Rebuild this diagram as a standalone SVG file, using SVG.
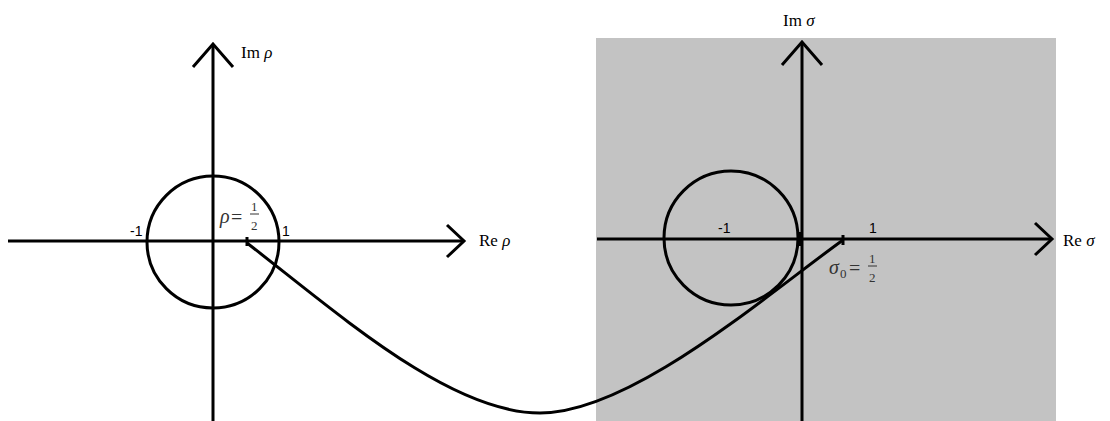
<svg xmlns="http://www.w3.org/2000/svg" width="1110" height="421" viewBox="0 0 1110 421">
<style>
.ax{stroke:#000;stroke-width:3;fill:none;stroke-linecap:butt}
.ah{stroke:#000;stroke-width:3;fill:none;stroke-linejoin:miter}
.lbl{font-family:"Liberation Serif",serif;font-size:17px;fill:#000}
.it{font-style:italic}
.num{font-family:"Liberation Sans",sans-serif;font-size:14px;fill:#000}
.math{font-family:"Liberation Serif",serif;fill:#333}
</style>
<rect x="0" y="0" width="1110" height="421" fill="#fff"/>
<g id="sigma-plane-bg"><rect x="596" y="38" width="460" height="383" fill="#c3c3c3"/></g>
<g id="rho-plane">
  <circle cx="213" cy="242" r="66" class="ax"/>
  <line x1="8" y1="241" x2="464" y2="241" class="ax"/>
  <polyline points="447,225 464,241 447,257" class="ah"/>
  <line x1="213" y1="421" x2="213" y2="44" class="ax"/>
  <polyline points="193,67 213,44 233,67" class="ah"/>
  <text x="241" y="58" class="lbl">Im <tspan class="it">ρ</tspan></text>
  <text x="479" y="246" class="lbl">Re <tspan class="it">ρ</tspan></text>
  <text x="130" y="236" class="num">-1</text>
  <text x="282" y="236" class="num">1</text>
  <text x="220" y="223" class="math it" font-size="20">ρ</text>
  <text x="231" y="224" class="math" font-size="20">=</text>
  <text x="251" y="211" class="math" font-size="13">1</text>
  <line x1="250" y1="214" x2="259" y2="214" stroke="#333" stroke-width="1"/>
  <text x="251" y="230" class="math" font-size="13">2</text>
  <line x1="247" y1="237" x2="247" y2="246" stroke="#000" stroke-width="3"/>
</g>
<g id="sigma-plane">
  <circle cx="731" cy="238" r="67" fill="#fff" class="ax"/>
  <line x1="597" y1="239" x2="1052" y2="239" class="ax"/>
  <polyline points="1035,223 1052,239 1035,255" class="ah"/>
  <line x1="802" y1="421" x2="802" y2="42" class="ax"/>
  <polyline points="782,65 802,42 822,65" class="ah"/>
  <line x1="799" y1="232" x2="799" y2="246" stroke="#000" stroke-width="4"/>
  <text x="783" y="26" class="lbl">Im <tspan class="it">σ</tspan></text>
  <text x="1063" y="246" class="lbl">Re <tspan class="it">σ</tspan></text>
  <text x="718" y="233" class="num">-1</text>
  <text x="869" y="233" class="num" fill="#1a3a8a">1</text>
  <text x="829" y="274" class="math it" font-size="20">σ</text>
  <text x="840" y="278" class="math" font-size="13">0</text>
  <text x="849" y="275" class="math" font-size="20">=</text>
  <text x="869" y="263" class="math" font-size="13">1</text>
  <line x1="868" y1="266" x2="877" y2="266" stroke="#333" stroke-width="1"/>
  <text x="869" y="282" class="math" font-size="13">2</text>
  <line x1="843" y1="235" x2="843" y2="245" stroke="#000" stroke-width="3"/>
</g>
<g id="connectors">
  <path d="M247,243 C340,315 450,413 540,413 C630,413 760,300 843,240" class="ax"/>
</g>
</svg>
